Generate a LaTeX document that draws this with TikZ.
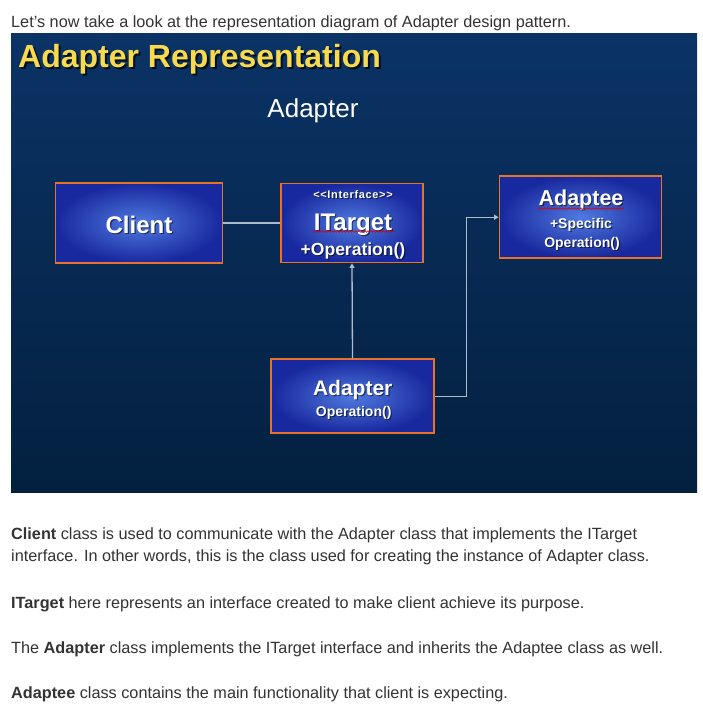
\documentclass[tikz,border=0pt]{standalone}
\usepackage{fontspec}
\setmainfont{Liberation Sans}
\usetikzlibrary{arrows.meta,decorations.pathmorphing}
\definecolor{panelTop}{RGB}{11,51,102}
\definecolor{panelBot}{RGB}{3,32,63}
\definecolor{boxIn}{RGB}{80,122,224}
\definecolor{boxOut}{RGB}{24,40,158}
\definecolor{boxLine}{RGB}{232,114,42}
\definecolor{connC}{RGB}{176,188,204}
\definecolor{titleY}{RGB}{248,218,78}
\definecolor{bodyText}{RGB}{51,51,51}
\newcommand\shlabel[4]{%
  \node[lbl,text=black,opacity=0.55] at ([shift={(1.2,1.2)}]#2) {#3#4};
  \node[lbl] (#1) at (#2) {#3#4};}
\newcommand\fs[1]{\fontsize{#1}{#1}\selectfont}
\begin{document}
\begin{tikzpicture}[x=1pt,y=-1pt,
  lbl/.style={inner sep=0pt,anchor=base,text=white},
  cls/.style={rectangle,draw=boxLine,line width=1.8pt,inner color=boxIn,outer color=boxOut,inner sep=0pt},
  connS/.style={draw=connC,line width=1.3pt},
  tip/.style={-{Triangle[width=5pt,length=4.5pt]}},
  squig/.style={draw=red!85!black,line width=0.6pt,decorate,decoration={snake,amplitude=0.8pt,segment length=3pt}},
  body/.style={inner sep=0pt,anchor=base west,text=bodyText,font=\fs{16.25}}]
\useasboundingbox (0,0) rectangle (703,721);
\fill[white] (0,0) rectangle (703,721);
\node[body] (intro) at (11,27) {Let’s now take a look at the representation diagram of Adapter design pattern.};
\shade[top color=panelTop,bottom color=panelBot] (11,33) rectangle (697,492);
% title
\node[lbl,anchor=base west,text=black,opacity=0.7] at (20,69) {\fs{32}\bfseries Adapter Representation};
\node[lbl,anchor=base west,text=titleY] (title) at (18,67) {\fs{32}\bfseries Adapter Representation};
\node[lbl,text=white] (sub) at (313,117.5) {\fs{26}Adapter};
% boxes
\node[cls,minimum width=167pt,minimum height=80pt] (client) at (139,223) {};
\node[cls,minimum width=142pt,minimum height=79pt] (itarget) at (352,223) {};
\node[cls,minimum width=162pt,minimum height=82pt] (adaptee) at (580.5,217.2) {};
\node[cls,minimum width=163pt,minimum height=74pt] (adapter) at (352.5,396.3) {};
% texts
\shlabel{tclient}{139,233}{\fs{24}\bfseries}{Client}
\shlabel{tiface}{353,198}{\fs{11}\bfseries\addfontfeature{LetterSpace=6}}{<{}<Interface>{}>}
\shlabel{titarget}{353,230}{\fs{24}\bfseries}{ITarget}
\draw[squig] (313,231.5) -- (394,231.5);
\shlabel{titop}{353,255.5}{\fs{17.5}\bfseries}{+Operation()}
\shlabel{tadaptee}{581,205.5}{\fs{21.5}\bfseries}{Adaptee}
\draw[squig] (538,208.5) -- (624,208.5);
\shlabel{tspec}{581,228.3}{\fs{14}\bfseries}{+Specific}
\shlabel{tspecop}{582,247.7}{\fs{14}\bfseries}{Operation()}
\shlabel{tadapter}{352.7,395.7}{\fs{21}\bfseries}{Adapter}
\shlabel{tadop}{353.7,416.7}{\fs{14}\bfseries}{Operation()}
% connectors
\coordinate (bend) at (466.7,300);
\draw[connS] (client.east) -- (itarget.west);
\draw[connS,tip] (adapter.north) -- (itarget.south);
\draw[connS,tip] (adapter.east) -- (adapter.east -| bend) |- (adaptee.west);
% body text
\node[body] (p1) at (11,539) {\textbf{Client} class is used to communicate with the Adapter class that implements the ITarget};
\node[body] (p2) at (11,561) {interface. In other words, this is the class used for creating the instance of Adapter class.};
\node[body] (p3) at (11,608) {\textbf{ITarget} here represents an interface created to make client achieve its purpose.};
\node[body] (p4) at (11,653) {The \textbf{Adapter} class implements the ITarget interface and inherits the Adaptee class as well.};
\node[body] (p5) at (11,698) {\textbf{Adaptee} class contains the main functionality that client is expecting.};
\end{tikzpicture}
\end{document}
